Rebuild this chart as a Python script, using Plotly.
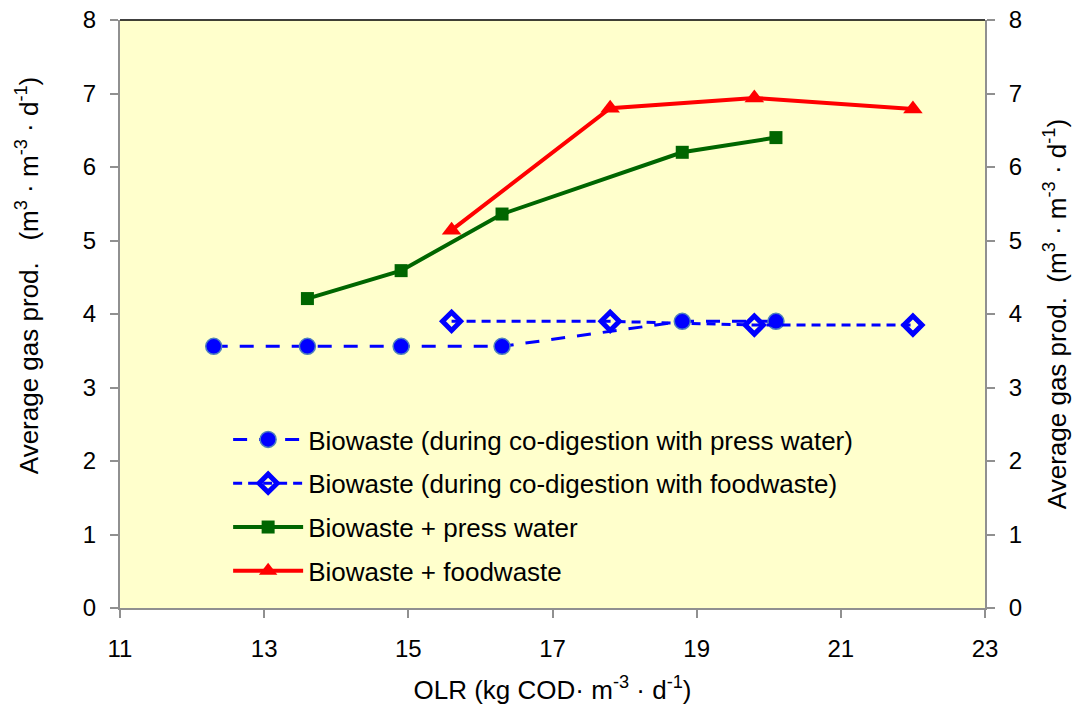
import plotly.graph_objects as go

# Data
x_pw_bio = [12.3, 13.6, 14.9, 16.3, 18.8, 20.1]
y_pw_bio = [3.56, 3.56, 3.56, 3.56, 3.90, 3.90]

x_fw_bio = [15.6, 17.8, 19.8, 22.0]
y_fw_bio = [3.90, 3.90, 3.85, 3.85]

x_pw = [13.6, 14.9, 16.3, 18.8, 20.1]
y_pw = [4.21, 4.59, 5.36, 6.20, 6.40]

x_fw = [15.6, 17.8, 19.8, 22.0]
y_fw = [5.14, 6.80, 6.94, 6.79]

names = [
    "Biowaste (during co-digestion with press water)",
    "Biowaste (during co-digestion with foodwaste)",
    "Biowaste + press water",
    "Biowaste + foodwaste",
]

x_ticks = [11, 13, 15, 17, 19, 21, 23]
y_ticks = [0, 1, 2, 3, 4, 5, 6, 7, 8]

font_family = "Liberation Sans, Arial, sans-serif"
ytitle = "Average gas prod.&nbsp; (m<sup>3</sup> · m<sup>-3</sup> · d<sup>-1</sup>)"
ytitle_left = "Average gas prod.&nbsp;&nbsp; (m<sup>3</sup> · m<sup>-3</sup> · d<sup>-1</sup>)"
xtitle = "OLR (kg COD· m<sup>-3</sup> · d<sup>-1</sup>)"

fig = go.Figure()
fig.add_trace(go.Scatter(
    x=x_pw_bio, y=y_pw_bio, name=names[0], mode="lines+markers", legendgroup="a",
    line=dict(color="#0000FF", width=3, dash="14px,12px"),
    marker=dict(symbol="circle", size=16, color="#0000FF", line=dict(color="#4F81BD", width=1.5)),
))
fig.add_trace(go.Scatter(
    x=x_fw_bio, y=y_fw_bio, name=names[1], mode="lines+markers", legendgroup="b",
    line=dict(color="#0000FF", width=3, dash="9px,6px"),
    marker=dict(symbol="diamond-open", size=14, color="#0000FF", line=dict(color="#0000FF", width=5)),
))
fig.add_trace(go.Scatter(
    x=x_pw, y=y_pw, name=names[2], mode="lines+markers", legendgroup="c",
    line=dict(color="#006600", width=4),
    marker=dict(symbol="square", size=13, color="#006600"),
))
fig.add_trace(go.Scatter(
    x=x_fw, y=y_fw, name=names[3], mode="lines+markers", legendgroup="d",
    line=dict(color="#FF0000", width=4),
    marker=dict(symbol="triangle-up", size=17, color="#FF0000"),
))
# invisible trace on the right-hand axis
fig.add_trace(go.Scatter(x=[11], y=[0], yaxis="y2", showlegend=False,
                         mode="markers", marker=dict(opacity=0), hoverinfo="skip"))

axis_common = dict(
    showgrid=False, zeroline=False, showline=True, linecolor="#909090", linewidth=2,
    ticks="outside", tickcolor="#909090", ticklen=8, tickwidth=1.5,
    tickfont=dict(size=24, color="black", family=font_family),
    ticklabeloverflow="allow", automargin=False,
)

fig.update_layout(
    width=1076, height=715,
    margin=dict(l=120, r=91, t=20, b=107, autoexpand=False),
    paper_bgcolor="white", plot_bgcolor="#FFFFCC",
    font=dict(family=font_family, color="black"),
    xaxis=dict(range=[11, 23], tickvals=x_ticks, ticklabelstandoff=10,
               title=dict(text=xtitle, font=dict(size=26), standoff=20),
               **axis_common),
    yaxis=dict(range=[0, 8], tickvals=y_ticks, ticklabelstandoff=9,
               **axis_common),
    yaxis2=dict(range=[0, 8], tickvals=y_ticks, overlaying="y", side="right", ticklabelstandoff=9,
                title=dict(text=ytitle, font=dict(size=26), standoff=27),
                **axis_common),
    legend=dict(x=0.125, y=0.3265, xanchor="left", yanchor="top",
                bgcolor="rgba(0,0,0,0)", font=dict(size=26, color="black"),
                itemwidth=70, tracegroupgap=7),
    annotations=[dict(text=ytitle_left, textangle=-90, xref="paper", yref="paper",
                      x=-0.107, y=0.565, xanchor="center", yanchor="middle",
                      showarrow=False, font=dict(size=26, color="black"))],
    shapes=[dict(type="line", xref="paper", yref="paper", x0=0, x1=1, y0=1, y1=1,
                 line=dict(color="black", width=1.5))],
    showlegend=True,
)

fig.write_html("out.html", config={"displayModeBar": False},
               post_script="document.body.style.margin='0';")
